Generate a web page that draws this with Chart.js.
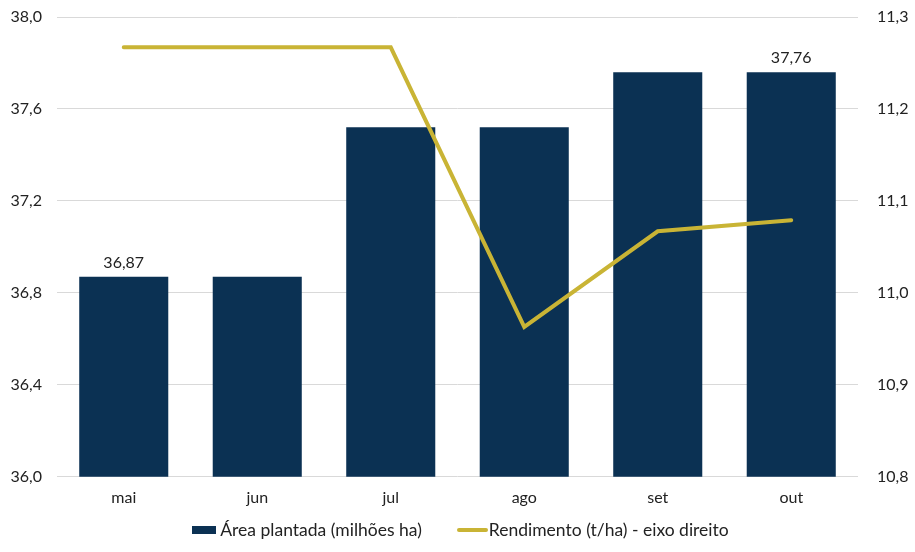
<!DOCTYPE html>
<html>
<head>
<meta charset="utf-8">
<script src="https://cdn.jsdelivr.net/npm/chart.js@4"></script>
<style>
  html, body { margin: 0; padding: 0; background: #fff; }
  #wrap { position: relative; width: 915px; height: 552px; }
  #legend {
    position: absolute; left: 3px; top: 519px; width: 915px;
    display: flex; justify-content: center; gap: 35px;
    font: 17.5px Lato, "Open Sans", sans-serif; color: #222;
  }
  .item { display: flex; align-items: center; line-height: 22px; }
  .swatch-bar { width: 24px; height: 8px; background: #0b3153; margin-right: 4px; }
  .swatch-line { width: 31px; height: 4px; border-radius: 2px; background: #c9b435; margin-right: 1px; }
</style>
</head>
<body>
<div id="wrap">
  <canvas id="chart"></canvas>
  <div id="legend"></div>
</div>
<script>
const months = ['mai', 'jun', 'jul', 'ago', 'set', 'out']
const plantedArea = [36.87, 36.87, 37.52, 37.52, 37.76, 37.76]
const yieldPerHa = [11.267, 11.267, 11.267, 10.963, 11.067, 11.079]
const labelledBars = [0, 5]

const BAR_COLOR = '#0b3153'
const LINE_COLOR = '#c9b435'
const TEXT_COLOR = '#222222'
const GRID_COLOR = '#d9d9d9'
const FONT = { family: 'Lato, "Open Sans", sans-serif', size: 16 }

const fmt = (v, d) => v.toFixed(d).replace('.', ',')

// fixed side widths, no extra vertical room for the end labels
const fitSide = (s) => {
  s.width = 57
  s.paddingTop = 0
  s.paddingBottom = 0
}

const barLabels = {
  id: 'barLabels',
  afterDatasetsDraw(chart) {
    const { ctx } = chart
    const meta = chart.getDatasetMeta(1)
    ctx.save()
    ctx.font = `${FONT.size}px ${FONT.family}`
    ctx.fillStyle = TEXT_COLOR
    ctx.textAlign = 'center'
    ctx.textBaseline = 'bottom'
    for (const i of labelledBars) {
      const bar = meta.data[i]
      ctx.fillText(fmt(plantedArea[i], 2), bar.x, bar.y - 6)
    }
    ctx.restore()
  },
}

const chart = new Chart(document.getElementById('chart'), {
  data: {
    labels: months,
    datasets: [
      {
        type: 'line',
        label: 'Rendimento (t/ha) - eixo direito',
        data: yieldPerHa,
        yAxisID: 'y1',
        borderColor: LINE_COLOR,
        backgroundColor: LINE_COLOR,
        borderWidth: 4,
        pointRadius: 0,
        tension: 0,
        borderCapStyle: 'round',
        order: 0,
      },
      {
        type: 'bar',
        label: 'Área plantada (milhões ha)',
        data: plantedArea,
        yAxisID: 'y',
        backgroundColor: BAR_COLOR,
        barPercentage: 0.667,
        categoryPercentage: 1,
        order: 1,
      },
    ],
  },
  options: {
    responsive: true,
    maintainAspectRatio: false,
    animation: false,
    layout: { padding: { top: 17, bottom: 42 } },
    scales: {
      x: {
        grid: { display: false },
        border: { display: false },
        ticks: { color: TEXT_COLOR, font: FONT, padding: 3 },
      },
      y: {
        position: 'left',
        min: 36,
        max: 38,
        afterFit: fitSide,
        grid: { color: GRID_COLOR, drawTicks: false },
        border: { display: false },
        ticks: { stepSize: 0.4, color: TEXT_COLOR, font: FONT, padding: 15, callback: (v) => fmt(v, 1) },
      },
      y1: {
        position: 'right',
        min: 10.8,
        max: 11.3,
        afterFit: fitSide,
        grid: { display: false },
        border: { display: false },
        ticks: { stepSize: 0.1, color: TEXT_COLOR, font: FONT, padding: 11, callback: (v) => fmt(v, 1) },
      },
    },
    plugins: {
      tooltip: { enabled: false },
      legend: { display: false },
    },
  },
  plugins: [barLabels],
})

// HTML legend, bar series first
const legend = document.getElementById('legend')
for (const ds of [...chart.data.datasets].reverse()) {
  const item = document.createElement('div')
  item.className = 'item'
  const swatch = document.createElement('span')
  swatch.className = ds.type === 'bar' ? 'swatch-bar' : 'swatch-line'
  const text = document.createElement('span')
  text.textContent = ds.label
  item.append(swatch, text)
  legend.appendChild(item)
}
</script>
</body>
</html>
